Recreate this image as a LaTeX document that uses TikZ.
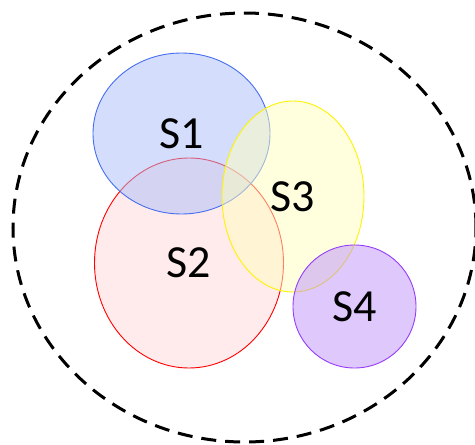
\documentclass[tikz,border=0pt]{standalone}
\usepackage{fontspec}
\setmainfont{Carlito}
\usepackage{xcolor}
\usetikzlibrary{shapes}

\definecolor{setblue}{RGB}{170,190,250}
\definecolor{setred}{RGB}{255,215,215}
\definecolor{setyellow}{RGB}{255,255,190}
\definecolor{setpurple}{RGB}{190,145,250}
\definecolor{edgeblue}{RGB}{70,110,240}
\definecolor{edgepurple}{RGB}{150,60,250}

\tikzset{
	setnode/.style={ellipse,inner sep=0pt,fill opacity=0.5,text opacity=1,line width=0.9pt,
		font=\fontsize{46}{50}\selectfont}
}

\begin{document}
\begin{tikzpicture}[x=1pt,y=-1pt]
		\useasboundingbox (0,0) rectangle (475,445);
		\node [ellipse,draw,line width=3pt,dash pattern=on 15pt off 9pt,
			minimum width=463pt,minimum height=429pt] (U) at (244.5,227.5) {};
		\node [setnode,draw=red,fill=setred,minimum width=189pt,minimum height=210pt] (S2) at (189,263) {S2};
		\node [setnode,draw=edgeblue,fill=setblue,minimum width=177pt,minimum height=161pt] (S1) at (181.5,133.5) {S1};
		\node [setnode,draw=yellow,fill=setyellow,minimum width=142pt,minimum height=191pt] (S3) at (293,196.5) {S3};
		\node [setnode,draw=edgepurple,fill=setpurple,minimum width=123pt,minimum height=123pt] (S4) at (354.5,306.5) {S4};
\end{tikzpicture}
\end{document}
